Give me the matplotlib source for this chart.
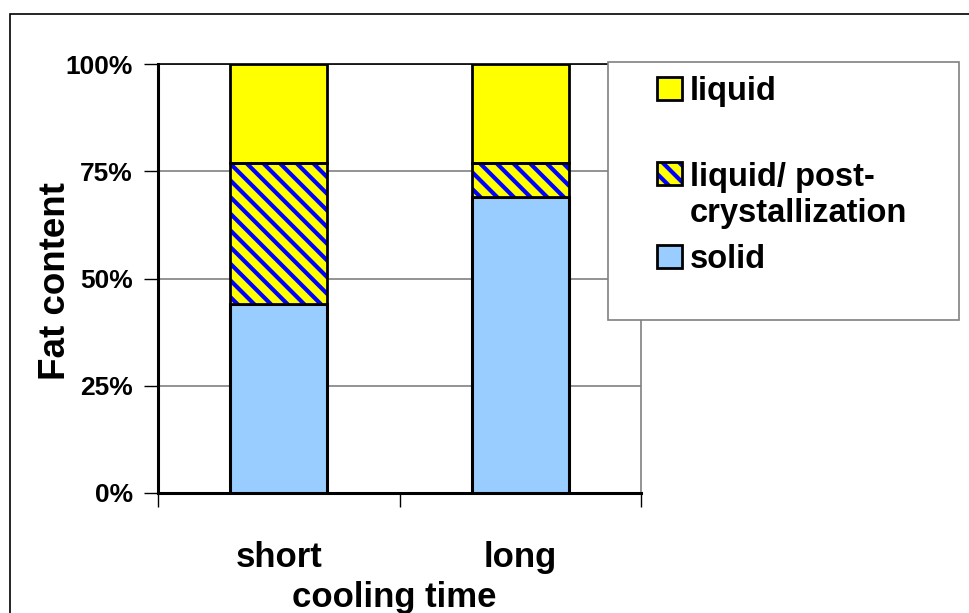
import matplotlib
matplotlib.use("Agg")
import matplotlib.pyplot as plt
from matplotlib.patches import Rectangle
from matplotlib.ticker import FixedLocator, PercentFormatter

categories = ["short", "long"]
solid = [44, 69]
post_cryst = [33, 8]
liquid = [23, 23]

labels = ["liquid", "liquid/ post-\ncrystallization", "solid"]
yticks = [0, 25, 50, 75, 100]

YELLOW = "#ffff00"
BLUE = "#0000ff"
LIGHTBLUE = "#99ccff"
HATCH = "\\\\"

plt.rcParams["font.family"] = ["Liberation Sans", "DejaVu Sans"]
plt.rcParams["font.weight"] = "bold"
plt.rcParams["hatch.linewidth"] = 3.0

W, H = 969, 613
fig = plt.figure(figsize=(W / 100, H / 100), dpi=100)


def fx(px):
    return px / W


def fy(py):
    return 1 - py / H


ax = fig.add_axes([fx(158), fy(493), (641 - 158) / W, (493 - 64) / H])

# outer chart frame (open on the right and bottom)
fig.add_artist(Rectangle((fx(10), -0.1), 1.2, fy(14) + 0.1,
                         transform=fig.transFigure, fill=False,
                         edgecolor="black", linewidth=1.2))

x = list(range(len(categories)))
width = 0.4
ax.bar(x, solid, width, color=LIGHTBLUE, edgecolor="black", linewidth=2.2, zorder=3)
bottom2 = list(solid)
ax.bar(x, post_cryst, width, bottom=bottom2, color=YELLOW, edgecolor=BLUE,
       hatch=HATCH, linewidth=0, zorder=3)
ax.bar(x, post_cryst, width, bottom=bottom2, fill=False, edgecolor="black",
       linewidth=2.0, zorder=4)
bottom3 = [s + p for s, p in zip(solid, post_cryst)]
ax.bar(x, liquid, width, bottom=bottom3, color=YELLOW, edgecolor="black",
       linewidth=2.0, zorder=3)

ax.set_xlim(-0.5, 1.5)
ax.set_ylim(0, 100)
ax.yaxis.set_major_locator(FixedLocator(yticks))
ax.yaxis.set_major_formatter(PercentFormatter(decimals=0))
ax.set_xticks(x)
ax.set_xticklabels(categories, fontsize=25, fontweight="bold")
ax.xaxis.set_minor_locator(FixedLocator([-0.5, 0.5, 1.5]))
ax.tick_params(axis="x", which="major", length=0, pad=34.5)
ax.tick_params(axis="x", which="minor", length=10, width=1, direction="out", color="black")
ax.tick_params(axis="y", length=10, width=1, direction="out", labelsize=19, pad=8)

ax.grid(axis="y", color="#808080", linewidth=1.2, zorder=0)
ax.set_axisbelow(True)
for side in ["left", "bottom"]:
    ax.spines[side].set_linewidth(2.2)
    ax.spines[side].set_color("black")
ax.spines["top"].set_linewidth(1.2)
ax.spines["top"].set_color("black")
ax.spines["right"].set_linewidth(1.2)
ax.spines["right"].set_color("#808080")

ax.set_ylabel("Fat content", fontsize=26.5, fontweight="bold")
ax.yaxis.set_label_coords(-0.176, 0.495)
ax.set_xlabel("cooling time", fontsize=25, fontweight="bold")
ax.xaxis.set_label_coords(0.489, -0.205)

# legend box
fig.add_artist(Rectangle((fx(608), fy(320)), (959 - 608) / W, (320 - 62) / H,
                         transform=fig.transFigure, facecolor="white",
                         edgecolor="#808080", linewidth=1.2, zorder=10))
legend_rows = [
    # (label, face, hatch, handle top px, last-line baseline px)
    (labels[0], YELLOW, None, 77, 100),
    (labels[1], YELLOW, HATCH, 162, 222),
    (labels[2], LIGHTBLUE, None, 245, 268),
]
for label, face, hatch, top, base in legend_rows:
    if hatch:
        fig.add_artist(Rectangle((fx(657), fy(top + 23)), 25 / W, 23 / H,
                                 transform=fig.transFigure, facecolor=face,
                                 edgecolor=BLUE, hatch=hatch, linewidth=0, zorder=11))
        fig.add_artist(Rectangle((fx(657), fy(top + 23)), 25 / W, 23 / H,
                                 transform=fig.transFigure, fill=False,
                                 edgecolor="black", linewidth=2, zorder=12))
    else:
        fig.add_artist(Rectangle((fx(657), fy(top + 23)), 25 / W, 23 / H,
                                 transform=fig.transFigure, facecolor=face,
                                 edgecolor="black", linewidth=2, zorder=11))
    fig.text(fx(690), fy(base), label, fontsize=23.5, fontweight="bold",
             ha="left", va="baseline", linespacing=1.2, zorder=12)

fig.savefig("out.png", dpi=100, facecolor="white")
